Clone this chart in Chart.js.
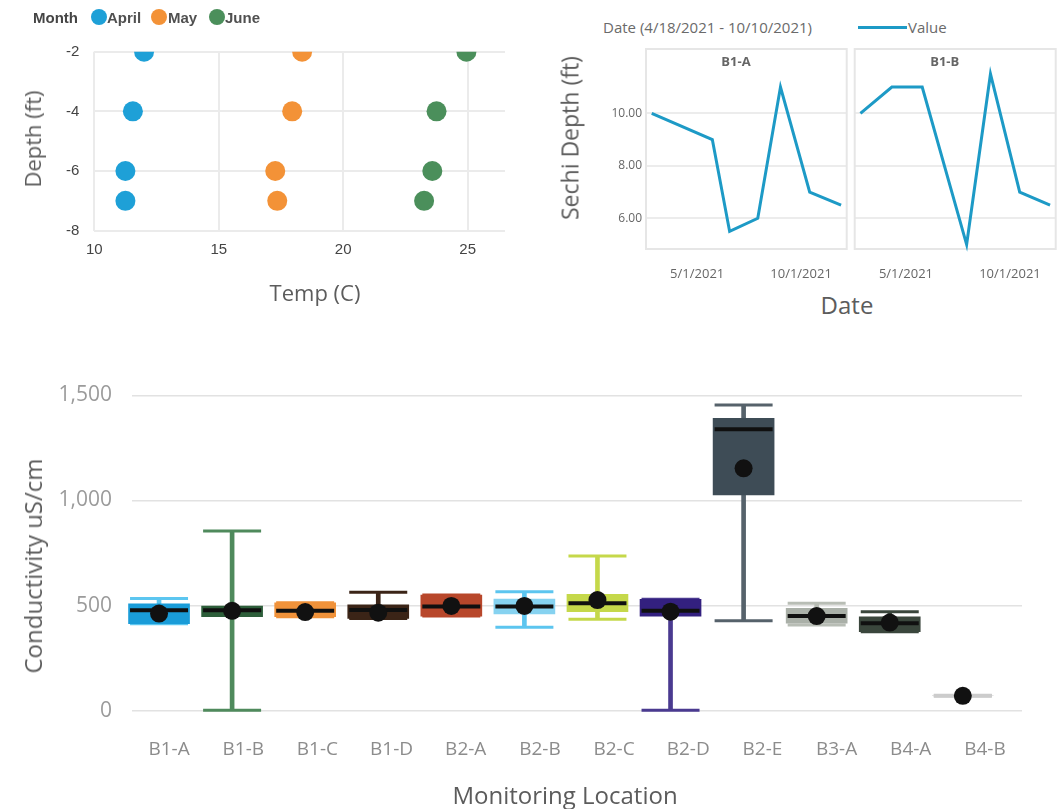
<!DOCTYPE html>
<html>
<head>
<meta charset="utf-8">
<title>Water quality dashboard</title>
<script src="https://cdn.jsdelivr.net/npm/chart.js@4.4.1/dist/chart.umd.min.js"></script>
<style>
    html, body { margin: 0; padding: 0; background: #ffffff; }
    body { position: relative; width: 1063px; height: 809px; overflow: hidden; font-family: 'Open Sans', sans-serif; }
    canvas { position: absolute; }
    .lbl { position: absolute; white-space: nowrap; line-height: 1; color: #5c5c5c; }
    .ctr { transform: translate(-50%, -50%); }
    .rot { transform: translate(-50%, -50%) rotate(-90deg); }
    .legend { font-family: 'Liberation Sans', Arial, sans-serif; font-weight: bold; font-size: 15px; transform: translateY(-50%); }
    .dot { position: absolute; width: 16px; height: 16px; border-radius: 50%; }
</style>
</head>
<body>

<!-- Temperature profile (scatter) -->
<canvas id="tempChart" width="540" height="310" style="left:0;top:0"></canvas>
<span class="lbl legend" style="left:33px;top:17px;color:#454545">Month</span>
<div class="dot" style="left:91px;top:9px;background:#1ea0d7"></div>
<span class="lbl legend" style="left:107px;top:17px;color:#505050">April</span>
<div class="dot" style="left:151px;top:9px;background:#f39237"></div>
<span class="lbl legend" style="left:168px;top:17px;color:#505050">May</span>
<div class="dot" style="left:209px;top:9px;background:#4b8f5b"></div>
<span class="lbl legend" style="left:225px;top:17px;color:#505050">June</span>
<span class="lbl rot" style="left:32px;top:139px;font-size:22px">Depth (ft)</span>
<span class="lbl ctr" style="left:315px;top:292px;font-size:22px">Temp (C)</span>

<!-- Secchi depth small multiples -->
<canvas id="sechiA" width="290" height="240" style="left:560px;top:40px"></canvas>
<canvas id="sechiB" width="213" height="240" style="left:850px;top:40px"></canvas>
<span class="lbl" style="left:603px;top:20px;font-size:15px;color:#6a6a6a">Date (4/18/2021 - 10/10/2021)</span>
<div style="position:absolute;left:858px;top:26px;width:49px;height:3px;background:#1d9ac6"></div>
<span class="lbl" style="left:908px;top:20px;font-size:15px;color:#6a6a6a">Value</span>
<span class="lbl rot" style="left:570px;top:138px;font-size:23px">Sechi Depth (ft)</span>
<span class="lbl ctr" style="left:847px;top:305px;font-size:24px">Date</span>

<!-- Conductivity box plot -->
<canvas id="condChart" width="1063" height="439" style="left:0;top:370px"></canvas>
<span class="lbl rot" style="left:33px;top:566px;font-size:24px">Conductivity uS/cm</span>
<span class="lbl ctr" style="left:565px;top:795px;font-size:24px">Monitoring Location</span>

<script>
// ---- Temperature profile data ----
const depthLevels = [-2, -4, -6, -7];
const aprilTemp = [12.0, 11.55, 11.25, 11.25];
const mayTemp = [18.35, 17.95, 17.27, 17.35];
const juneTemp = [24.95, 23.75, 23.58, 23.25];
const monthNames = ['April', 'May', 'June'];

// ---- Secchi depth data (x = days after 4/18/2021 as plotted) ----
const sechiDaysA = [0, 56, 72, 98, 119, 146, 175];
const sechiDepthA = [10, 9, 5.5, 6, 11, 7, 6.5];
const sechiDaysB = [0, 29, 57, 98, 120, 147, 175];
const sechiDepthB = [10, 11, 11, 5, 11.5, 7, 6.5];
const sechiTickDays = [42, 138];
const sechiTickLabels = ['5/1/2021', '10/1/2021'];
const sechiValueTicks = [6, 8, 10];

// ---- Conductivity box plot data ----
const locations = ['B1-A', 'B1-B', 'B1-C', 'B1-D', 'B2-A', 'B2-B', 'B2-C', 'B2-D', 'B2-E', 'B3-A', 'B4-A', 'B4-B'];
const condMin = [414, 2, 447, 439, 450, 397, 435, 2, 428, 407, 376, 71];
const condQ1 = [414, 447, 447, 439, 450, 460, 471, 450, 1026, 416, 376, 71];
const condMedian = [478, 478, 475, 479, 495, 495, 511, 475, 1338, 450, 416, 71];
const condQ3 = [508, 498, 513, 503, 550, 531, 553, 530, 1390, 487, 447, 71];
const condMax = [534, 855, 513, 563, 550, 566, 736, 530, 1454, 511, 471, 71];
const condMean = [462, 475, 469, 466, 498, 498, 526, 471, 1153, 450, 419, 71];

// colours
const monthColors = ['#1ea0d7', '#f39237', '#4b8f5b'];
const boxColors = ['#1a9cd8', '#2d5e3a', '#f0923a', '#3b2417', '#b8472b', '#86d2f0',
                   '#c5d84a', '#33207f', '#3e4c56', '#aab0a8', '#3a463c', '#cccccc'];
const whiskerColors = ['#5cc6f0', '#4f8a5c', '#f0923a', '#3b2417', '#b8472b', '#5cc5ef',
                       '#c5d84a', '#4a3a90', '#56626b', '#b8bdb5', '#3a463c', '#cccccc'];
const medianColors = locations.map((l, i) => i === locations.length - 1 ? '#cccccc' : '#101010');

Chart.defaults.font.family = "'Open Sans', sans-serif";
Chart.defaults.animation = false;
Chart.defaults.plugins.legend.display = false;
Chart.defaults.plugins.tooltip.enabled = false;

// force axis boxes to a fixed size so the plot areas line up with the layout
const fixWidth = (w) => (scale) => { scale.width = w; };
const fixHeight = (h) => (scale) => { scale.height = h; };

/**
 * Scatter: temperature vs depth
 */
const toPoints = (xs, ys) => xs.map((x, i) => ({ x: x, y: ys[i] }));

new Chart(document.getElementById('tempChart'), {
    type: 'scatter',
    data: {
        datasets: [aprilTemp, mayTemp, juneTemp].map((temps, i) => ({
            label: monthNames[i],
            data: toPoints(temps, depthLevels),
            backgroundColor: monthColors[i],
            borderWidth: 0,
            pointRadius: 10,
            clip: 0
        }))
    },
    options: {
        responsive: false,
        layout: { padding: { left: 0, top: 51.7, right: 35, bottom: 0 } },
        scales: {
            x: {
                min: 10,
                max: 26.5,
                ticks: { stepSize: 5, includeBounds: false, color: '#444', padding: 10,
                         font: { family: "'Liberation Sans', Arial, sans-serif", size: 15 } },
                grid: { color: '#ebebeb', lineWidth: 2, drawTicks: false },
                border: { display: false },
                afterFit: fixHeight(79.3)
            },
            y: {
                min: -8,
                max: -2,
                ticks: { stepSize: 2, color: '#444', padding: 15,
                         font: { family: "'Liberation Sans', Arial, sans-serif", size: 15 } },
                grid: { color: '#ebebeb', lineWidth: 2, drawTicks: false },
                border: { display: false },
                afterFit: fixWidth(94.3)
            }
        }
    }
});

/**
 * Small multiples: Secchi depth per site
 */
const panelFrame = {
    id: 'panelFrame',
    beforeDatasetsDraw(chart, args, opts) {
        const { ctx, chartArea: a } = chart;
        ctx.save();
        ctx.strokeStyle = opts.color;
        ctx.lineWidth = opts.width;
        ctx.strokeRect(a.left, a.top, a.right - a.left, a.bottom - a.top);
        ctx.restore();
    },
    afterDatasetsDraw(chart, args, opts) {
        const { ctx, chartArea: a } = chart;
        ctx.save();
        ctx.fillStyle = '#666';
        ctx.font = "bold 13px 'Open Sans', sans-serif";
        ctx.textAlign = 'center';
        ctx.textBaseline = 'middle';
        ctx.fillText(opts.title, a.left + 90, a.top + 13);
        ctx.restore();
    }
};

function makeSechiPanel(canvasId, site, days, depths, showValueAxis) {
    return new Chart(document.getElementById(canvasId), {
        type: 'line',
        data: {
            datasets: [{
                label: 'Value',
                data: toPoints(days, depths),
                borderColor: '#1d9ac6',
                borderWidth: 3,
                pointRadius: 0,
                tension: 0,
                clip: false
            }]
        },
        plugins: [panelFrame],
        options: {
            responsive: false,
            layout: { padding: { left: showValueAxis ? 0 : 4.7, top: 9, right: showValueAxis ? 3.3 : 7.3, bottom: 0 } },
            plugins: { panelFrame: { title: site, color: '#e6e6e6', width: 2 } },
            scales: {
                x: {
                    type: 'linear',
                    min: -5.3,
                    max: 180.2,
                    afterBuildTicks: (s) => { s.ticks = sechiTickDays.map(v => ({ value: v })); },
                    ticks: { color: '#666', font: { size: 13 }, padding: 9, maxRotation: 0,
                             callback: (v, i) => sechiTickLabels[i] },
                    grid: { display: false },
                    border: { display: false },
                    afterFit: fixHeight(31)
                },
                y: {
                    min: 4.83,
                    max: 12.45,
                    afterBuildTicks: (s) => { s.ticks = sechiValueTicks.map(v => ({ value: v })); },
                    ticks: { display: showValueAxis, color: '#666', font: { size: 12 }, padding: 0,
                             callback: (v) => v.toFixed(2) },
                    grid: { color: '#ececec', lineWidth: 2, drawTicks: true, tickLength: 4,
                            tickColor: 'rgba(0,0,0,0)' },
                    border: { display: false },
                    afterFit: fixWidth(showValueAxis ? 86 : 0)
                }
            }
        }
    });
}

makeSechiPanel('sechiA', 'B1-A', sechiDaysA, sechiDepthA, true);
makeSechiPanel('sechiB', 'B1-B', sechiDaysB, sechiDepthB, false);

/**
 * Box plot: conductivity by monitoring location
 * boxes = floating bars, stems = thin floating bars, caps/median = 'line' point style
 */
const atIndex = (vals) => vals.map((v, i) => ({ x: i, y: v }));
const spanIndex = (lo, hi) => lo.map((v, i) => ({ x: i, y: [v, hi[i]] }));

const markerLine = (label, vals, colors, width, order) => ({
    type: 'line',
    label: label,
    data: atIndex(vals),
    xAxisID: 'xb',
    showLine: false,
    pointStyle: 'line',
    pointRadius: 29,
    pointBorderWidth: width,
    pointBorderColor: colors,
    clip: false,
    order: order
});

new Chart(document.getElementById('condChart'), {
    type: 'bar',
    data: {
        labels: locations,
        datasets: [
            {
                type: 'line',
                label: 'Mean',
                data: atIndex(condMean),
                xAxisID: 'xb',
                showLine: false,
                pointStyle: 'circle',
                pointRadius: 9,
                pointBackgroundColor: '#111',
                pointBorderWidth: 0,
                clip: false,
                order: 0
            },
            markerLine('Median', condMedian, medianColors, 4, 1),
            {
                label: 'Q1 - Q3',
                data: spanIndex(condQ1, condQ3),
                xAxisID: 'xb',
                backgroundColor: boxColors,
                barThickness: 61,
                grouped: false,
                borderSkipped: false,
                clip: false,
                order: 2
            },
            markerLine('Max', condMax, whiskerColors, 3, 3),
            markerLine('Min', condMin, whiskerColors, 3, 3),
            {
                label: 'Range',
                data: spanIndex(condMin, condMax),
                xAxisID: 'xb',
                backgroundColor: whiskerColors,
                barThickness: 4,
                grouped: false,
                clip: false,
                order: 4
            }
        ]
    },
    options: {
        responsive: false,
        // the wide 'line' markers would otherwise add ~33px auto padding on top
        layout: { autoPadding: false, padding: { left: 0, top: 25.3, right: 41, bottom: 0 } },
        scales: {
            x: {
                type: 'category',
                grid: { display: false },
                border: { display: false },
                ticks: { color: '#8c8c8c', font: { size: 19 }, padding: 19, maxRotation: 0, autoSkip: false },
                afterFit: fixHeight(98.3)
            },
            xb: {
                type: 'linear',
                axis: 'x',
                display: false,
                offset: false,
                min: -0.37,
                max: 11.81
            },
            y: {
                min: 0,
                max: 1500,
                ticks: { stepSize: 500, color: '#9b9b9b', font: { size: 21 }, padding: 0,
                         callback: (v) => v.toLocaleString('en-US') },
                grid: { color: '#e2e2e2', lineWidth: 1.5, drawTicks: true, tickLength: 20,
                        tickColor: 'rgba(0,0,0,0)' },
                border: { display: false },
                afterFit: fixWidth(132)
            }
        }
    }
});
</script>
</body>
</html>
